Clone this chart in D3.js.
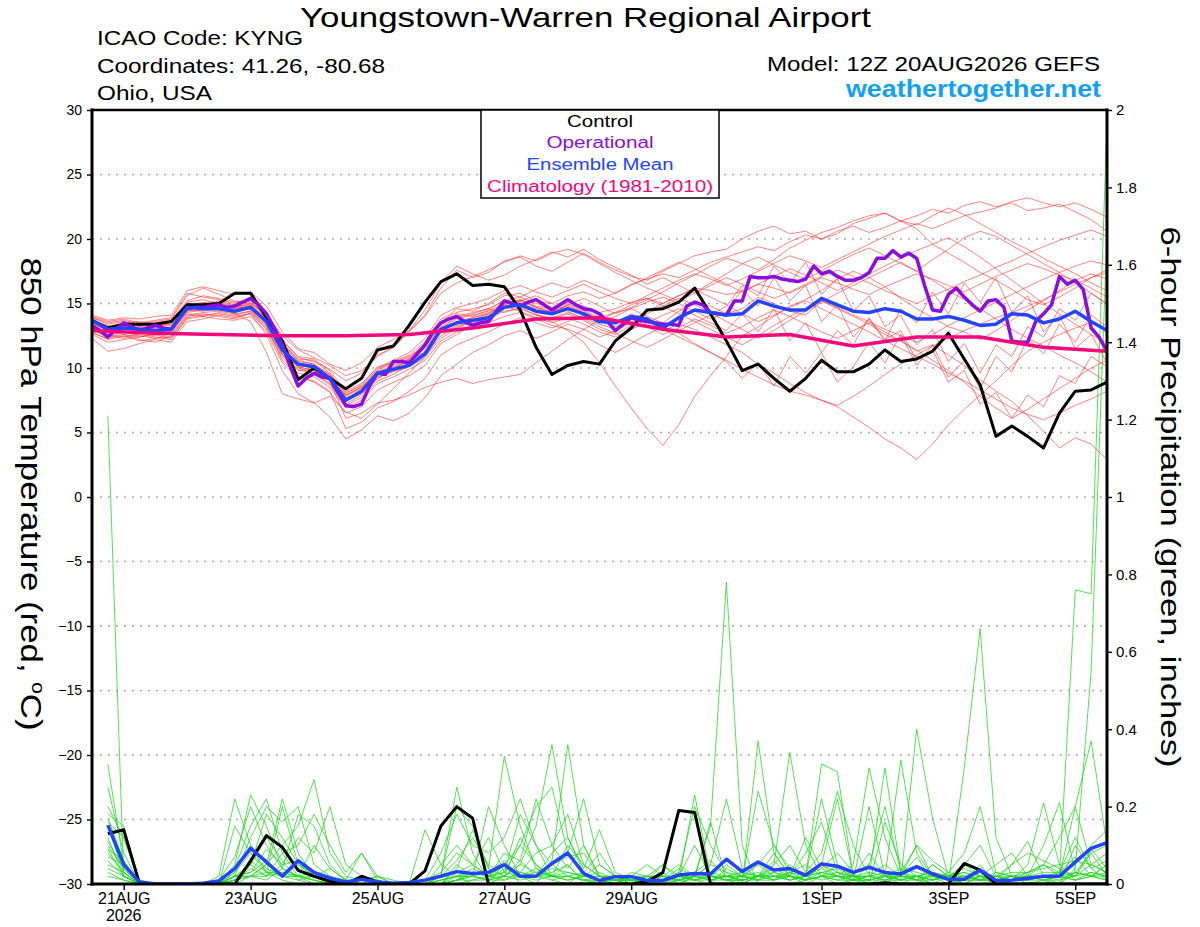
<!DOCTYPE html>
<html><head><meta charset="utf-8">
<script src="https://cdn.jsdelivr.net/npm/d3@7"></script>
<style>
body{margin:0;background:#fff}
svg{display:block}
text{font-family:"Liberation Sans",Arial,Helvetica,sans-serif}
</style>
</head><body>
<svg id="c" width="1200" height="927"></svg>
<script>
// ---------------- DATA ----------------
const runStartUTC = [2026, 7, 20, 12];     // 12Z 20AUG2026
const forecastHours = 384;
const stepHours = 6;          // members, control, mean
const opStepHours = 3;        // operational
const climStepHours = 24;     // climatology

const tempTicks = [-30,-25,-20,-15,-10,-5,0,5,10,15,20,25,30];
const gridTicks = [-25,-20,-15,-10,-5,0,5,10,15,20,25];
const precipTicks = [0,0.2,0.4,0.6,0.8,1,1.2,1.4,1.6,1.8,2];
const dateTicks = ["2026-08-21","2026-08-23","2026-08-25","2026-08-27","2026-08-29","2026-09-01","2026-09-03","2026-09-05"];
const dateTickLabels = ["21AUG","23AUG","25AUG","27AUG","29AUG","1SEP","3SEP","5SEP"];
const yearLabel = "2026";

// 850 hPa temperature, control (6-hourly, 0..384h)
const tempControl = [13.7,13.1,13.4,13.4,13.4,13.6,14.9,14.9, 15.0,15.8,15.8,13.9,12.1,9.1,10.0,9.2,
 8.4,9.2,11.4,11.7,13.3,15.1,16.7,17.3, 16.4,16.5,16.3,14.5,11.6,9.5,10.2,10.5,
 10.3,12.1,13.1,14.5,14.6,15.1,16.2,14.2, 12.1,9.8,10.3,9.2,8.2,9.2,10.6,9.7,
 9.7,10.3,11.4,10.5,10.7,11.3,12.7,10.7, 8.7,4.7,5.5,4.7,3.8,6.5,8.2,8.3, 8.9];

// ensemble mean (6-hourly)
const tempMean = [13.7,13.0,13.1,13.0,12.9,13.0,14.7,14.6, 14.6,14.4,14.7,13.6,11.4,10.3,10.1,9.2,
 7.5,8.2,9.6,9.9,10.2,11.1,13.0,13.5, 13.7,13.9,14.7,14.9,14.4,14.2,14.6,14.2,
 13.6,13.5,14.0,13.8,13.1,13.9,14.5,14.3, 14.1,14.2,15.2,14.8,14.5,14.5,15.4,14.9,
 14.4,14.3,14.6,14.4,13.8,13.8,14.0,13.7, 13.3,13.4,14.2,14.1,13.5,13.8,14.4,13.6, 12.9];

// operational (3-hourly)
const tempOperational = [13.3,12.9,12.4,13.0,13.5,13.2,12.9,13.1,13.3,13.1,13.0,13.9,14.6,14.7,14.7,14.8,
 14.9,14.7,14.8,15.1,15.4,14.9,14.2,13.1,11.8,10.1,8.6,9.2,9.6,9.3,9.2,8.1,
 7.1,7.0,7.2,8.6,9.6,9.5,10.5,10.5,10.4,11.1,11.8,12.8,13.5,13.8,14.0,13.6,
 13.3,13.5,13.6,14.4,15.2,15.0,14.8,15.1,15.3,14.9,14.5,14.9,15.3,14.9,14.6,14.5,
 14.2,13.6,12.9,13.4,13.9,13.7,13.6,13.5,13.4,13.4,13.3,14.8,15.1,14.9,14.3,14.2,
 14.1,15.2,15.2,17.1,17.0,17.0,17.1,16.9,16.8,16.7,16.9,17.9,17.3,17.5,17.1,16.8,
 16.8,17.0,17.4,18.5,18.5,19.1,18.6,18.9,18.5,16.4,14.5,14.4,15.7,16.2,15.5,14.9,
 14.4,15.2,15.3,14.7,12.1,12.0,12.0,13.6,14.2,14.9,17.1,16.5,16.8,16.1,13.1,12.4, 11.3];

// climatology 1981-2010 (daily at 12Z)
const tempClimatology = [12.9,12.7,12.6,12.5,12.5,12.6,13.1,13.8,13.9,13.0,12.4,12.6,11.7,12.4,12.4,11.6,11.3];

// ensemble members (6-hourly)
const tempMembers = [
 [13.9,13.4,13.6,13.3,13.2,13.5,14.9,15.0,15.1,14.8,14.9,13.9,11.8,10.6,10.3,9.5,8.1,8.6,9.9,10.5,11.0,12.0,13.8,14.3,14.6,14.9,15.6,15.8,15.2,15.0,15.6,15.9,15.4,15.8,16.5,16.9,17.3,17.0,17.6,18.2,18.6,19.0,19.4,19.1,19.8,20.3,20.0,20.6,21.0,20.5,20.9,21.4,21.8,22.3,22.0,22.6,22.9,22.5,22.8,22.2,22.4,22.7,22.1,21.5,20.6],
 [13.5,12.9,13.2,13.4,13.6,13.8,15.6,16.2,15.7,15.2,15.0,14.1,12.5,11.4,10.8,10.2,9.4,9.8,10.9,11.6,12.8,14.1,16.2,17.6,17.0,17.4,18.3,18.6,17.9,17.5,18.2,18.9,18.2,17.6,17.1,16.8,17.5,18.1,18.7,19.0,19.2,20.0,20.6,21.0,20.4,20.6,20.0,20.4,21.2,21.6,22.0,21.4,20.8,19.6,18.9,18.2,17.4,16.8,16.1,15.3,14.9,15.5,16.2,17.0,17.6],
 [13.2,12.6,12.4,12.7,12.9,12.6,14.2,14.0,14.3,14.1,14.4,13.2,10.6,9.4,8.9,8.1,6.5,7.0,8.3,8.9,9.4,10.2,11.9,12.6,13.4,14.0,14.8,15.1,14.2,13.6,12.9,12.0,10.4,8.6,6.9,5.3,4.0,5.6,7.8,9.4,10.9,12.5,13.2,14.0,14.8,15.3,16.0,16.9,17.5,17.0,16.3,15.4,14.6,13.9,13.2,12.8,12.2,12.9,13.7,14.5,15.2,16.0,16.8,17.3,16.9],
 [13.0,12.4,12.8,12.5,12.3,12.7,14.4,14.6,14.8,14.6,15.0,14.3,12.0,10.0,9.6,8.8,7.2,7.9,9.2,9.8,10.4,11.6,13.4,14.2,14.0,14.5,15.3,15.0,14.6,14.3,14.9,14.4,13.8,13.5,14.2,13.6,12.9,13.4,13.0,12.4,11.8,11.2,10.3,9.6,8.8,8.1,7.5,7.0,6.2,5.4,4.5,3.8,2.9,4.1,5.6,6.8,7.9,9.0,10.2,11.3,12.0,12.6,13.1,13.5,13.0],
 [13.6,13.1,13.0,12.8,12.5,13.1,14.6,14.8,14.5,14.3,14.8,13.7,11.1,10.1,9.8,9.0,7.6,8.3,9.5,10.1,10.6,11.2,13.0,13.6,13.9,14.3,14.9,15.3,14.8,14.6,15.0,14.5,13.9,14.3,14.6,14.0,13.5,14.4,15.2,14.8,14.2,14.6,15.5,15.0,14.4,14.1,15.2,14.6,14.0,13.4,12.6,12.1,11.3,11.8,11.0,10.2,9.1,8.2,7.4,6.3,5.1,3.8,4.6,4.1,2.9],
 [12.8,12.2,12.5,12.1,12.3,12.4,14.0,14.2,14.0,13.8,14.3,13.1,11.0,9.8,9.9,9.1,7.9,8.5,9.8,10.4,10.9,11.7,13.2,13.9,14.2,14.6,14.3,14.7,14.1,13.8,14.2,13.7,13.0,12.6,13.3,13.7,13.0,12.4,11.8,11.2,10.5,9.2,10.4,8.6,10.9,9.6,11.2,8.9,10.1,12.0,10.4,12.6,10.2,11.8,9.3,10.6,8.4,10.9,9.7,12.3,11.1,13.4,12.0,14.1,13.2],
 [14.0,13.6,13.8,13.5,13.7,13.9,15.8,15.5,15.3,15.0,15.4,14.2,12.2,10.8,10.5,9.9,9.0,9.6,11.0,11.6,12.9,14.5,16.6,17.9,17.3,16.8,17.2,17.9,18.4,19.0,18.6,19.2,18.4,17.8,17.2,16.5,17.0,16.4,15.8,16.6,17.3,18.1,18.6,18.0,17.4,16.9,17.5,18.2,18.8,19.3,18.7,18.1,17.5,18.4,19.2,20.1,20.6,20.2,19.5,18.8,18.1,17.4,16.6,15.8,14.9],
 [12.3,11.3,11.5,11.9,12.2,12.0,13.6,13.8,14.1,13.9,14.2,12.6,9.8,8.0,7.3,6.2,4.5,5.2,6.3,5.9,6.5,7.7,9.4,10.3,11.2,11.8,12.5,12.9,12.3,12.8,13.4,13.0,12.4,12.9,13.5,14.2,14.8,15.4,14.9,14.3,13.6,13.0,12.3,12.9,13.7,14.4,15.1,15.8,16.4,17.0,17.6,18.2,17.5,16.8,16.0,15.3,14.6,13.8,13.0,12.3,11.7,11.0,10.4,9.7,8.9],
 [13.3,12.8,12.6,12.4,12.7,12.9,14.3,14.5,14.7,14.2,13.6,11.2,8.0,7.6,7.3,7.8,6.6,6.1,7.2,8.4,9.6,10.9,12.3,13.1,13.6,14.1,14.7,15.2,15.6,15.0,14.4,13.8,13.2,12.7,12.1,11.6,12.2,12.9,13.5,14.1,14.8,16.4,15.6,17.9,16.6,18.2,15.7,16.9,14.4,15.6,13.2,14.1,11.8,13.0,10.5,11.9,9.6,11.8,10.9,13.2,12.4,14.6,13.7,15.8,15.0],
 [13.8,13.2,13.5,13.6,13.4,13.3,14.9,14.7,14.9,14.7,15.1,14.0,11.9,10.7,10.6,9.6,8.0,8.7,10.1,10.4,10.8,11.8,13.6,14.0,14.3,14.6,15.2,15.5,15.0,14.7,15.1,14.8,14.3,14.6,15.1,15.4,15.0,15.6,16.2,16.0,15.7,15.9,16.5,16.2,15.8,16.4,17.0,16.6,16.1,15.7,16.3,16.8,17.3,16.9,16.4,15.9,16.5,17.1,17.6,18.1,17.7,17.2,16.8,16.2,15.5],
 [13.1,12.7,13.0,13.2,13.0,12.8,14.5,14.4,14.6,14.4,14.6,13.5,11.3,10.2,10.0,9.3,7.8,8.4,9.6,10.0,10.5,11.3,12.7,13.3,13.5,13.8,14.4,14.6,14.1,13.9,14.3,13.9,13.4,13.0,13.6,13.2,12.6,13.1,13.8,13.3,12.7,13.2,13.9,14.5,14.0,13.4,12.8,12.3,12.9,13.5,12.8,12.1,11.4,10.6,9.8,8.9,7.8,6.9,6.1,6.8,7.6,8.4,9.2,10.0,10.6],
 [13.4,12.9,13.3,13.1,12.8,13.2,14.8,15.1,14.9,14.6,14.8,13.7,11.5,10.3,10.1,9.4,7.7,8.1,9.3,9.7,10.1,10.8,12.8,13.5,13.9,14.2,14.9,15.3,14.7,14.3,14.9,15.4,14.8,14.2,14.7,15.3,15.9,16.6,17.2,17.9,18.5,18.1,17.6,18.4,19.3,19.9,20.5,20.9,21.4,21.8,22.0,21.4,21.1,21.8,22.4,21.9,21.2,20.5,19.8,19.2,18.5,17.9,17.3,16.6,16.0],
 [12.9,12.5,12.3,12.6,12.4,12.2,13.9,14.1,14.2,14.0,14.2,13.0,10.8,9.6,9.3,8.5,6.9,7.5,8.8,9.3,9.9,10.6,12.1,12.8,13.1,13.5,14.0,14.3,13.8,13.3,13.0,12.5,11.8,11.2,11.9,12.6,13.2,12.7,11.9,11.2,10.6,9.9,9.3,8.7,8.2,7.9,7.5,7.1,7.8,8.6,9.5,10.3,11.0,11.7,12.3,12.9,13.4,13.9,14.3,14.8,15.3,15.9,16.5,17.0,17.4],
 [13.6,13.3,13.1,13.0,13.3,13.6,15.1,15.3,15.0,14.8,14.5,13.4,11.2,10.1,9.8,9.0,6.1,6.5,7.3,7.5,7.9,8.5,8.9,9.2,8.8,9.1,9.3,9.5,10.4,11.3,12.2,13.0,13.7,14.3,14.9,15.4,14.8,14.2,13.6,13.0,12.4,11.8,12.5,13.3,14.0,14.6,15.2,14.7,14.1,13.6,13.0,12.5,12.0,12.6,13.3,13.9,14.5,15.1,15.7,16.3,16.9,17.4,17.9,18.3,18.0],
 [13.9,13.5,13.7,13.4,13.5,13.7,15.2,15.6,15.4,15.1,15.3,14.4,12.1,10.9,10.7,9.8,8.2,8.8,10.0,10.6,11.2,12.3,14.1,14.7,15.0,15.4,16.0,16.4,15.9,15.5,16.0,16.5,15.9,15.4,15.0,15.6,16.2,16.8,17.3,16.9,16.4,16.9,17.5,18.1,18.7,18.3,17.8,18.4,19.0,19.6,20.2,20.7,21.2,20.8,21.3,21.8,22.1,22.4,22.9,23.2,22.8,22.5,22.8,22.3,21.7],
 [12.6,12.0,12.2,12.4,12.6,12.3,13.8,14.0,13.8,13.7,14.0,12.8,10.4,9.2,9.0,8.2,5.3,5.8,6.9,7.4,8.2,9.2,11.0,11.8,12.3,12.8,13.4,13.9,13.5,13.1,13.6,14.1,13.5,14.0,14.6,15.1,15.5,15.0,14.4,13.8,14.3,16.1,14.8,17.0,15.2,16.4,13.6,14.9,12.4,13.8,12.1,14.6,13.5,15.9,14.2,16.6,15.1,17.0,14.3,15.6,12.8,14.1,11.5,12.6,10.4],
 [13.5,13.0,13.4,13.2,13.1,13.0,14.6,14.9,14.8,14.5,14.9,13.8,11.6,10.4,10.2,9.5,7.9,8.5,9.7,10.2,10.7,11.5,13.1,13.8,14.1,14.4,15.0,15.2,14.7,14.4,14.8,14.3,13.7,13.2,13.8,14.4,15.0,15.6,16.1,15.5,14.9,14.2,13.6,14.1,14.7,15.2,14.6,14.0,13.4,12.8,12.1,11.5,10.9,10.3,9.6,9.0,8.3,7.6,6.9,6.4,6.0,6.5,7.1,7.6,8.2],
 [14.1,13.7,13.9,13.8,14.0,14.1,16.0,16.3,16.0,15.7,15.9,14.8,12.8,11.5,11.2,10.3,9.8,10.4,11.6,12.2,12.9,14.0,15.8,16.6,17.1,17.6,18.2,18.7,18.3,18.9,19.2,18.8,18.1,17.4,16.8,16.2,15.7,15.2,15.8,16.4,17.0,16.5,15.9,15.4,15.9,16.5,17.1,17.6,17.1,16.6,16.0,15.5,15.0,15.6,16.1,16.7,17.2,17.8,18.3,18.9,19.4,19.9,20.3,20.7,20.2],
 [12.7,12.3,12.6,12.2,12.0,12.5,14.1,14.3,14.4,14.2,14.4,13.3,11.0,9.9,9.5,8.7,7.1,7.7,9.0,9.5,10.2,11.0,12.5,13.2,13.7,14.2,14.8,14.4,13.9,13.5,13.9,13.4,12.8,12.4,13.0,13.5,14.1,14.6,14.1,13.5,12.9,14.2,12.8,14.6,12.1,13.5,11.2,12.9,11.8,13.9,12.2,12.9,10.6,11.4,8.9,9.8,7.2,8.1,6.1,7.9,7.0,9.4,8.8,10.9,10.1],
 [13.2,12.8,13.1,12.9,13.2,13.4,15.0,14.8,15.2,14.9,15.2,14.1,11.9,10.5,10.3,9.3,7.5,8.0,9.2,9.9,10.7,11.9,13.5,14.6,14.4,15.0,15.8,15.5,16.1,16.6,16.2,16.8,16.3,15.8,16.4,17.0,17.6,18.2,17.7,17.1,16.5,15.9,16.5,17.1,17.7,17.2,16.6,16.0,16.6,17.3,17.9,18.5,19.1,19.6,20.1,19.4,18.6,17.7,16.8,15.9,15.0,14.2,13.4,12.6,11.9]
];

// 6-hour precipitation (inches), values for 6h..384h
const precipControl = [0.13,0.14,0,0,0,0,0,0, 0,0.06,0.125,0.095,0.035,0.02,0.007,0,
 0.02,0.005,0,0,0.034,0.15,0.20,0.17, 0,0,0,0,0,0,0,0,
 0,0,0.006,0.03,0.19,0.185,0,0, 0,0,0,0,0,0,0,0,
 0,0.003,0,0,0,0,0.053,0.036, 0,0,0,0,0,0,0,0];
const precipMean = [0.152,0.05,0.005,0,0,0,0.002,0.008, 0.04,0.092,0.057,0.02,0.06,0.03,0.015,0.005,
 0.012,0.005,0.002,0.004,0.01,0.02,0.032,0.027, 0.03,0.05,0.02,0.02,0.053,0.08,0.027,0.009,
 0.019,0.019,0.009,0.009,0.023,0.027,0.026,0.064, 0.032,0.057,0.036,0.04,0.023,0.052,0.046,0.03,
 0.043,0.03,0.026,0.045,0.026,0.012,0.012,0.036, 0.009,0.01,0.015,0.02,0.02,0.057,0.092,0.107];
const precipMembers = [
 [1.21,0.02,0,0,0,0,0,0, 0,0.05,0.12,0.06,0.01,0,0,0, 0,0,0,0,0,0.02,0.25,0.08, 0.01,0.05,0,0,0,0,0,0, 0,0,0,0,0,0.02,0.15,0.78, 0.1,0,0,0,0.01,0.03,0.02,0, 0,0,0,0.02,0,0,0.01,0.05, 0,0,0,0,0,0.1,0.04,0.01],
 [0.31,0.05,0,0,0,0,0,0.02, 0.22,0.1,0.03,0.01,0,0,0,0, 0,0,0,0,0,0,0.05,0.02, 0.2,0.1,0.02,0,0.06,0.36,0.1,0.02, 0,0,0.02,0.05,0.01,0,0,0, 0,0.37,0.08,0.02,0,0.02,0.05,0.01, 0,0,0.03,0.1,0.02,0,0.3,0.66, 0.12,0.02,0,0.01,0,0.03,0.08,0.02],
 [0.18,0.15,0,0,0,0,0,0, 0.05,0.23,0.15,0.04,0.02,0,0,0, 0,0,0,0,0.14,0.05,0.02,0, 0,0.02,0.12,0.05,0.01,0,0.03,0.08, 0.02,0,0,0,0.03,0.2,0.1,0.03, 0,0.02,0.05,0.34,0.1,0.02,0,0.01, 0.05,0.02,0,0,0.03,0.01,0,0.02, 0,0.01,0.03,0.05,0.02,0.76,0.75,1.97],
 [0.16,0.12,0.01,0,0,0,0,0, 0.02,0.12,0.2,0.16,0.2,0.05,0.02,0, 0,0,0,0,0,0.02,0.2,0.15, 0.04,0.33,0.15,0.04,0.02,0.05,0,0.01, 0,0,0,0.03,0,0.02,0.05,0.22, 0.04,0.02,0.08,0.02,0.01,0.05,0.22,0.02, 0,0.16,0.05,0.02,0,0,0.01,0.03, 0.02,0.05,0.11,0.02,0,0.04,0.55,1.68],
 [0.1,0.04,0,0,0,0,0,0, 0.03,0.1,0.05,0.22,0.08,0.02,0,0, 0.02,0,0,0,0,0.05,0.1,0.05, 0.02,0.05,0.1,0.2,0.25,0.08,0.22,0.05, 0.02,0,0.01,0.01,0.04,0.02,0.02,0.02, 0.01,0.24,0.1,0.04,0.02,0.31,0.29,0.02, 0,0.02,0.01,0.4,0.17,0.02,0,0, 0.01,0,0,0,0.03,0.07,0.02,0.01],
 [0.09,0.06,0,0,0,0,0,0.01, 0.07,0.2,0.1,0.04,0.18,0.15,0.05,0.01, 0.01,0,0,0,0.01,0.08,0.18,0.1, 0.08,0.12,0.22,0.1,0.05,0.02,0.01,0, 0,0.03,0.02,0,0.01,0.23,0.02,0.02, 0.01,0.01,0.05,0.1,0.03,0.08,0.24,0.1, 0.02,0.3,0.03,0.01,0,0.02,0.05,0.1, 0.02,0.01,0.05,0.21,0.05,0.01,0.02,0.05],
 [0.08,0.03,0,0,0,0,0,0, 0.15,0.08,0.03,0.2,0.05,0.02,0.01,0, 0,0.02,0,0,0,0.02,0.06,0.12, 0.05,0.02,0.05,0.15,0.36,0.12,0.03,0.01, 0,0.02,0.01,0.05,0.02,0.01,0,0.04, 0.02,0.05,0.02,0.03,0.02,0.22,0.05,0.02, 0.03,0.02,0.32,0.08,0.02,0.01,0.05,0.02, 0.01,0.01,0.01,0.02,0.02,0.2,0.37,0.1],
 [0.25,0.08,0,0,0,0,0,0, 0.04,0.15,0.22,0.08,0.1,0.18,0.1,0.03, 0.08,0.02,0,0,0,0,0.03,0.05, 0.02,0.05,0.03,0.08,0.1,0.18,0.05,0.02, 0.01,0,0,0.01,0.02,0.1,0.02,0.01, 0,0.02,0.04,0.02,0.08,0.16,0.03,0.01, 0.2,0.02,0.03,0.01,0.05,0.02,0,0.02, 0.01,0.05,0.08,0.06,0.04,0.02,0.08,0.1],
 [0.06,0.02,0,0,0,0,0,0, 0.01,0.04,0.02,0.08,0.02,0.1,0.04,0.01, 0,0,0,0,0,0,0.01,0.03, 0.02,0.08,0.06,0.02,0.08,0.12,0.04,0.14, 0.03,0.01,0.02,0.02,0.01,0.02,0.16,0.01, 0.02,0.01,0.03,0.02,0.01,0.02,0.02,0.05, 0.3,0.12,0.02,0.01,0.05,0.02,0.04,0.02, 0.05,0.08,0.02,0.1,0.21,0.03,0.02,0.01],
 [0.15,0.03,0,0,0,0,0,0, 0.02,0.05,0.18,0.12,0.05,0.02,0,0, 0.01,0.02,0.01,0,0.01,0.03,0.08,0.05, 0.12,0.03,0.1,0.05,0.02,0.03,0.02,0.05, 0.02,0.01,0.01,0.01,0.02,0.02,0.05,0.03, 0.02,0.03,0.01,0.05,0.02,0.04,0.08,0.03, 0.05,0.2,0.03,0.02,0.01,0.02,0.03,0.01, 0.03,0.02,0.02,0.03,0.03,0.02,0.05,0.08],
 [0.12,0.02,0,0,0,0,0,0, 0,0.02,0.05,0.1,0.15,0.27,0.08,0.02, 0.01,0,0,0,0,0.01,0.02,0.04, 0.02,0.03,0.02,0.03,0.05,0.07,0.08,0.02, 0.02,0.01,0,0.02,0.05,0.02,0.01,0.02, 0.03,0.02,0.02,0.01,0.02,0.03,0.04,0.02, 0.02,0.05,0.02,0.1,0.06,0.03,0.08,0.2, 0.03,0.02,0.01,0.02,0.03,0.05,0.1,0.14],
 [0.03,0.01,0,0,0,0,0,0, 0.01,0.02,0.02,0.05,0.12,0.08,0.2,0.05, 0.02,0.01,0,0,0,0.01,0.02,0.03, 0.02,0.03,0.18,0.1,0.02,0.01,0.02,0.03, 0.01,0.01,0.01,0,0.02,0.03,0.06,0.02, 0.03,0.02,0.02,0.02,0.12,0.04,0.02,0.01, 0.02,0.01,0.02,0.02,0.03,0.02,0.01,0.02, 0.02,0.01,0.02,0.05,0.12,0.2,0.05,0.03],
 [0.07,0.05,0,0,0,0,0,0, 0.03,0.08,0.04,0.02,0.05,0.03,0.02,0.01, 0,0,0,0,0,0,0.04,0.14, 0.04,0.02,0.06,0.22,0.1,0.04,0.1,0.02, 0.01,0.01,0.02,0.01,0.01,0.03,0.02,0.05, 0.02,0.02,0.06,0.02,0.02,0.03,0.02,0.02, 0.08,0.02,0.02,0.02,0.02,0.02,0.03,0.02, 0.02,0.03,0.03,0.05,0.03,0.12,0.04,0.06],
 [0.09,0.02,0,0,0,0,0,0, 0.02,0.03,0.09,0.05,0.06,0.02,0.01,0, 0,0,0,0,0,0,0.01,0.02, 0.03,0.06,0.02,0.02,0.03,0.05,0.01,0.01, 0.01,0.02,0.05,0.02,0.02,0.01,0.02,0.01, 0.01,0.02,0.01,0.03,0.05,0.02,0.02,0.02, 0.02,0.02,0.02,0.07,0.01,0.02,0.02,0.01, 0.02,0.02,0.03,0.04,0.05,0.06,0.05,0.03],
 [0.2,0.12,0,0,0,0,0,0, 0.01,0.06,0.03,0.03,0.02,0.01,0,0, 0,0,0,0,0,0.01,0.02,0.02, 0.01,0.02,0.05,0.03,0.02,0.1,0.05,0.02, 0.01,0,0,0,0.01,0.02,0.01,0.02, 0.02,0.05,0.1,0.03,0.01,0.05,0.03,0.02, 0.02,0.03,0.01,0.02,0.03,0.02,0.02,0.03, 0.01,0.01,0.02,0.02,0.02,0.02,0.09,0.04],
 [0.04,0.02,0,0,0,0,0,0, 0.02,0.03,0.06,0.02,0.01,0.02,0.04,0.01, 0.08,0.01,0,0,0,0,0.01,0.01, 0.01,0.04,0.03,0.02,0.01,0.02,0.03,0.01, 0,0,0.01,0.01,0.02,0.03,0.02,0.01, 0.01,0.02,0.01,0.02,0.01,0.02,0.01,0.02, 0.01,0.02,0.04,0.03,0.02,0.01,0.01,0.02, 0.01,0.02,0.01,0.01,0.02,0.03,0.02,0.02],
 [0.17,0.06,0,0,0,0,0,0, 0.02,0.02,0.05,0.02,0.02,0.01,0,0, 0,0,0,0,0,0,0.02,0.02, 0.01,0.02,0.01,0.02,0.04,0.03,0.02,0.01, 0.01,0.02,0.02,0.02,0.01,0.01,0.03,0.02, 0.02,0.01,0.02,0.01,0.02,0.05,0.02,0.01, 0.01,0.02,0.01,0.02,0.01,0.03,0.02,0.01, 0.01,0.02,0.02,0.01,0.01,0.03,0.02,0.05],
 [0.02,0.01,0,0,0,0,0,0, 0.01,0.02,0.01,0.04,0.02,0.03,0.02,0, 0,0,0,0,0,0,0,0.01, 0.02,0.01,0.03,0.02,0.02,0.01,0.02,0.02, 0.01,0.01,0.01,0.02,0.01,0.02,0.01,0.02, 0.01,0.02,0.03,0.01,0.02,0.01,0.02,0.01, 0.02,0.01,0.01,0.02,0.01,0.02,0.01,0.01, 0.02,0.01,0.01,0.02,0.02,0.01,0.03,0.02],
 [0.05,0.03,0,0,0,0,0,0, 0.01,0.05,0.02,0.03,0.02,0.01,0,0, 0,0,0,0,0,0,0.01,0.03, 0.02,0.02,0.02,0.04,0.02,0.02,0.01,0.02, 0.02,0.01,0.01,0.01,0.03,0.01,0.02,0.01, 0.01,0.02,0.02,0.02,0.01,0.02,0.03,0.02, 0.01,0.01,0.02,0.01,0.02,0.01,0.02,0.01, 0.01,0.02,0.01,0.02,0.01,0.02,0.03,0.02],
 [0.11,0.04,0,0,0,0,0,0, 0.02,0.02,0.03,0.02,0.02,0.02,0.01,0, 0.01,0,0,0,0,0,0.01,0.02, 0.01,0.01,0.02,0.01,0.02,0.02,0.01,0.01, 0.01,0.01,0,0.01,0.02,0.01,0.01,0.01, 0.02,0.01,0.01,0.02,0.01,0.02,0.01,0.01, 0.01,0.02,0.01,0.01,0.01,0.02,0.01,0.01, 0.01,0.01,0.02,0.01,0.02,0.01,0.02,0.03]
];

// ---------------- TEXT ----------------
const titleText = "Youngstown-Warren Regional Airport";
const infoLines = ["ICAO Code: KYNG", "Coordinates: 41.26, -80.68", "Ohio, USA"];
const modelText = "Model: 12Z 20AUG2026 GEFS";
const siteText = "weathertogether.net";
const legendLabels = ["Control", "Operational", "Ensemble Mean", "Climatology (1981-2010)"];
const legendColors = ["#000000", "#8a0ee0", "#2343ff", "#f0087c"];

// ---------------- DRAW ----------------
const svg = d3.select("#c");
const X0 = 92, X1 = 1107, Y0 = 110, Y1 = 884;
const t0 = Date.UTC(...runStartUTC);
const timeAt = h => new Date(t0 + h * 3600e3);
const x = d3.scaleUtc().domain([timeAt(0), timeAt(forecastHours)]).range([X0, X1]);
const yT = d3.scaleLinear().domain([-30, 30]).range([Y1, Y0]);
const yP = d3.scaleLinear().domain([0, 2]).range([Y1, Y0]);

svg.append("rect").attr("width", 1200).attr("height", 927).attr("fill", "#fff");

svg.append("clipPath").attr("id", "plotclip").append("rect")
  .attr("x", X0).attr("y", Y0).attr("width", X1 - X0).attr("height", Y1 - Y0);

// grid
svg.append("g").selectAll("line").data(gridTicks).join("line")
  .attr("x1", X0).attr("x2", X1)
  .attr("y1", d => yT(d)).attr("y2", d => yT(d))
  .attr("stroke", "#a8a8a8").attr("stroke-width", 1.6)
  .attr("stroke-dasharray", "2,6");

const plot = svg.append("g").attr("clip-path", "url(#plotclip)");

const lineT = step => d3.line().x((d, i) => x(timeAt(i * step))).y(d => yT(d));
const lineP = d3.line().x((d, i) => x(timeAt((i + 1) * stepHours))).y(d => yP(d));

// precipitation members
plot.append("g").selectAll("path").data(precipMembers).join("path")
  .attr("d", lineP).attr("fill", "none")
  .attr("stroke", "#1ed61e").attr("stroke-width", 0.9).attr("stroke-opacity", 0.85);

// temperature members
plot.append("g").selectAll("path").data(tempMembers).join("path")
  .attr("d", lineT(stepHours)).attr("fill", "none")
  .attr("stroke", "#ff2a2a").attr("stroke-width", 0.9).attr("stroke-opacity", 0.65);

// precip control and mean
plot.append("path").datum(precipControl).attr("d", lineP).attr("fill", "none")
  .attr("stroke", legendColors[0]).attr("stroke-width", 3).attr("stroke-linejoin", "round");
plot.append("path").datum(precipMean).attr("d", lineP).attr("fill", "none")
  .attr("stroke", legendColors[2]).attr("stroke-width", 3.5).attr("stroke-linejoin", "round");

// temperature control / operational / mean / climatology
plot.append("path").datum(tempControl).attr("d", lineT(stepHours)).attr("fill", "none")
  .attr("stroke", legendColors[0]).attr("stroke-width", 3).attr("stroke-linejoin", "round");
plot.append("path").datum(tempOperational).attr("d", lineT(opStepHours)).attr("fill", "none")
  .attr("stroke", legendColors[1]).attr("stroke-width", 3.5).attr("stroke-linejoin", "round");
plot.append("path").datum(tempMean).attr("d", lineT(stepHours)).attr("fill", "none")
  .attr("stroke", legendColors[2]).attr("stroke-width", 3.5).attr("stroke-linejoin", "round");
plot.append("path").datum(tempClimatology).attr("d", lineT(climStepHours)).attr("fill", "none")
  .attr("stroke", legendColors[3]).attr("stroke-width", 3.5).attr("stroke-linejoin", "round");

// axes
const styleAxis = (g, fs) => {
  g.select(".domain").remove();
  g.selectAll(".tick line").attr("stroke", "#000").attr("stroke-width", 1.4);
  g.selectAll(".tick text").attr("fill", "#000").attr("font-size", fs)
    .attr("font-family", '"Liberation Sans",Arial,sans-serif');
};
svg.append("g").attr("transform", `translate(${X0},0)`)
  .call(d3.axisLeft(yT).tickValues(tempTicks).tickSize(5).tickPadding(5).tickFormat(d3.format("d")))
  .call(g => styleAxis(g, 14));
svg.append("g").attr("transform", `translate(${X1},0)`)
  .call(d3.axisRight(yP).tickValues(precipTicks).tickSize(5).tickPadding(4).tickFormat(d => String(+d.toFixed(1))))
  .call(g => styleAxis(g, 15));
const tickDateObjs = dateTicks.map(s => new Date(s + "T00:00:00Z"));
const xAxisG = svg.append("g").attr("transform", `translate(0,${Y1})`)
  .call(d3.axisBottom(x).tickValues(tickDateObjs).tickSize(6).tickPadding(3)
    .tickFormat((d, i) => dateTickLabels[i]))
  .call(g => styleAxis(g, 16));
xAxisG.append("text").attr("x", x(tickDateObjs[0])).attr("y", 37)
  .attr("text-anchor", "middle").attr("font-size", 16).attr("fill", "#000").text(yearLabel);

// frame
const frame = svg.append("g").attr("stroke", "#000").attr("stroke-linecap", "square");
frame.append("line").attr("x1", X0).attr("x2", X1).attr("y1", Y0).attr("y2", Y0).attr("stroke-width", 2.5);
frame.append("line").attr("x1", X0).attr("x2", X1).attr("y1", Y1).attr("y2", Y1).attr("stroke-width", 3);
frame.append("line").attr("x1", X0).attr("x2", X0).attr("y1", Y0).attr("y2", Y1).attr("stroke-width", 3);
frame.append("line").attr("x1", X1).attr("x2", X1).attr("y1", Y0).attr("y2", Y1).attr("stroke-width", 3);

// legend
const lg = svg.append("g");
lg.append("rect").attr("x", 481).attr("y", Y0).attr("width", 238).attr("height", 88)
  .attr("fill", "#fff").attr("stroke", "#000").attr("stroke-width", 1.5);
const legendWidths = [66, 107, 147, 226];
legendLabels.forEach((t, i) => {
  lg.append("text").attr("x", 600 - legendWidths[i] / 2).attr("y", 126.7 + i * 21.7)
    .attr("font-size", 16).attr("fill", legendColors[i])
    .attr("textLength", legendWidths[i]).attr("lengthAdjust", "spacingAndGlyphs").text(t);
});

// header texts
svg.append("text").attr("x", 300).attr("y", 27).attr("font-size", 28)
  .attr("textLength", 571).attr("lengthAdjust", "spacingAndGlyphs").text(titleText);
const infoWidths = [206, 288, 115];
const infoY = [45, 72.5, 100];
infoLines.forEach((t, i) => {
  svg.append("text").attr("x", 97).attr("y", infoY[i]).attr("font-size", 19.5)
    .attr("textLength", infoWidths[i]).attr("lengthAdjust", "spacingAndGlyphs").text(t);
});
svg.append("text").attr("x", 767).attr("y", 70.5).attr("font-size", 20)
  .attr("textLength", 333).attr("lengthAdjust", "spacingAndGlyphs").text(modelText);
svg.append("text").attr("x", 846).attr("y", 97).attr("font-size", 24).attr("font-weight", "bold")
  .attr("fill", "#12a0f4")
  .attr("textLength", 255).attr("lengthAdjust", "spacingAndGlyphs").text(siteText);

// axis titles
const lt = svg.append("text").attr("transform", "translate(21,494) rotate(90)")
  .attr("text-anchor", "middle").attr("font-size", 30)
  .attr("textLength", 473).attr("lengthAdjust", "spacingAndGlyphs");
lt.append("tspan").text("850 hPa Temperature (red, ");
lt.append("tspan").attr("font-size", 18).attr("dy", -11).text("o");
lt.append("tspan").attr("dy", 11).text("C)");
svg.append("text").attr("transform", "translate(1161,497) rotate(90)")
  .attr("text-anchor", "middle").attr("font-size", 28)
  .attr("textLength", 541).attr("lengthAdjust", "spacingAndGlyphs")
  .text("6-hour Precipitation (green, inches)");
</script>
</body></html>
